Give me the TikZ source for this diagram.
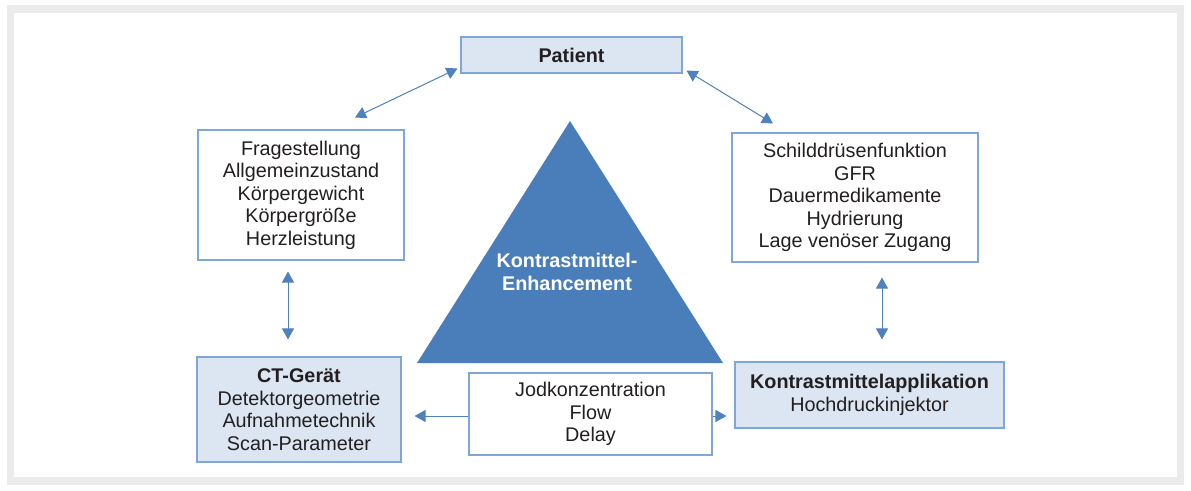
\documentclass[tikz,border=0pt]{standalone}
\usepackage{fontspec}
\setmainfont{Liberation Sans}
\usetikzlibrary{positioning,shapes,arrows.meta}
\definecolor{frame}{HTML}{EBEBEC}
\definecolor{txt}{HTML}{231F20}
\definecolor{lightblue}{HTML}{DCE6F2}
\definecolor{boxline}{HTML}{7EA6D6}
\definecolor{arrblue}{HTML}{4F81BD}
\definecolor{kmblue}{HTML}{4A7EBB}

\begin{document}
\begin{tikzpicture}[x=1pt,y=-1pt,
        every node/.style={font=\fontsize{19.8}{22.5}\selectfont,text=txt,align=center,inner sep=0pt},
        box/.style={draw=boxline,line width=1.1pt,fill=white},
        lbox/.style={box,fill=lightblue},
        arr/.style={draw=arrblue,line width=1pt,{Triangle[length=11pt,width=12pt]}-{Triangle[length=11pt,width=12pt]}},
        to/.style={draw=arrblue,line width=1pt,-{Triangle[length=11pt,width=12pt]}}]
        \useasboundingbox (0,0) rectangle (1191,490);
        \fill[frame] (7,5) rectangle (1184,485);
        \fill[white] (14,13) rectangle (1177,477);

        % triangle in the middle
        \fill[kmblue] (570,121) -- (723,363) -- (417,363) -- cycle;
        \node[text=white,font=\fontsize{19.8}{23.5}\selectfont\bfseries] (enh) at (567,272) {Kontrastmittel-\\Enhancement};

        \node[lbox,minimum width=221,minimum height=36] (pat) at (571.5,55) {\textbf{Patient}};
        \node[box,minimum width=206,minimum height=130] (left) at (301,195)
            {Fragestellung\\Allgemeinzustand\\Körpergewicht\\Körpergröße\\Herzleistung};
        \node[box,minimum width=246,minimum height=129] (right) at (855,197.5)
            {Schilddrüsenfunktion\\GFR\\Dauermedikamente\\Hydrierung\\Lage venöser Zugang};
        \node[lbox,minimum width=204,minimum height=105] (ct) at (299,409.5)
            {\textbf{CT-Gerät}\\Detektorgeometrie\\Aufnahmetechnik\\Scan-Parameter};
        \node[lbox,minimum width=269,minimum height=66] (kma) at (869.5,395)
            {\textbf{Kontrastmittelapplikation}\\Hochdruckinjektor};
        \node[box,minimum width=243,minimum height=82] (jod) at (590.5,414)
            {Jodkonzentration\\Flow\\Delay};

        \draw[arr] ([shift={(54,-12)}]left.north) -- ([shift={(-3,-5)}]pat.south west);
        \draw[arr] ([shift={(4,-3)}]pat.south east) -- ([shift={(-82,-9)}]right.north);
        \draw[arr] ([shift={(-13,11)}]left.south) -- ([shift={(-11,-17)}]ct.north);
        \draw[arr] ([shift={(27,15)}]right.south) -- ([shift={(12.5,-22)}]kma.north);
        \draw[to,shorten >=13pt] ([yshift=-2]jod.west) -- ([yshift=-2]jod.west -| ct.east);
        \draw[to,shorten >=8pt] ([yshift=-2]jod.east) -- ([yshift=-2]jod.east -| kma.west);
    \end{tikzpicture}
\end{document}
